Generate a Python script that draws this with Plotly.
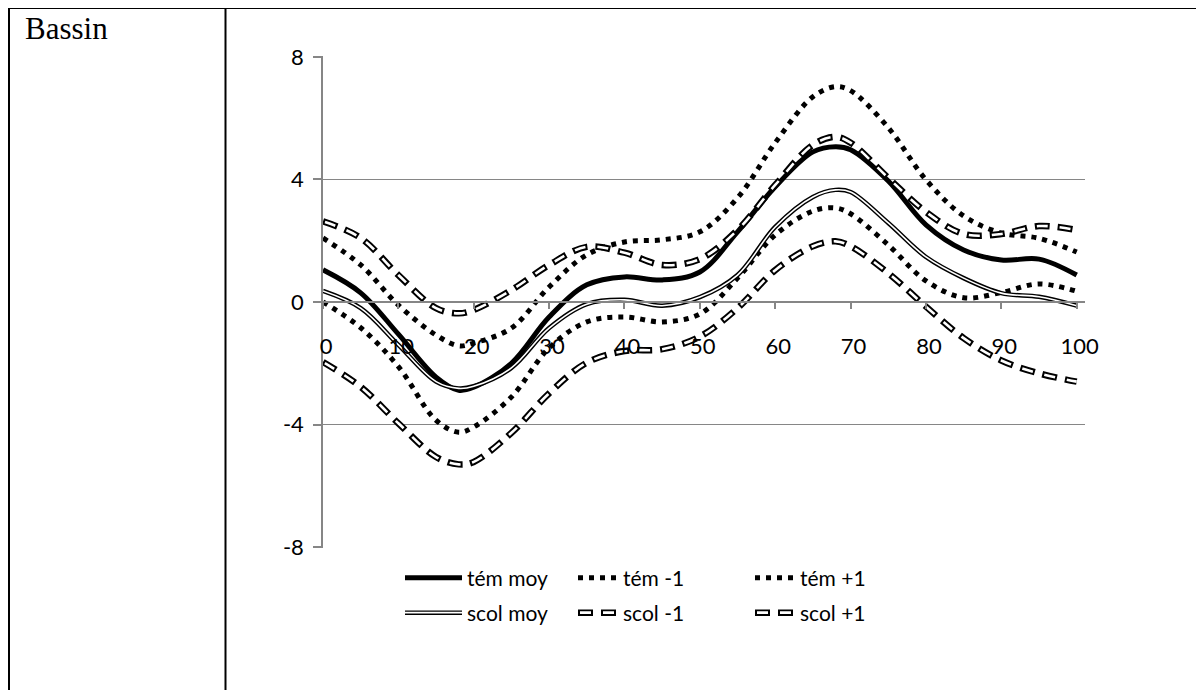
import plotly.graph_objects as go

# ---------------- data ----------------
x = [0, 5, 10, 15, 18, 20, 25, 30, 35, 40, 45, 50, 55, 60, 65, 68, 70, 75, 80, 85, 90, 95, 100]

tem_moy = [1.05, 0.30, -1.05, -2.45, -2.88, -2.78, -2.00, -0.49, 0.56, 0.82, 0.72, 0.98,
           2.29, 3.76, 4.90, 5.07, 4.97, 3.95, 2.52, 1.70, 1.37, 1.40, 0.88]
tem_m1 = [0.00, -0.84, -2.11, -3.86, -4.25, -4.08, -3.10, -1.50, -0.65, -0.49, -0.65, -0.39,
          0.78, 2.19, 2.97, 3.07, 2.88, 1.86, 0.69, 0.14, 0.31, 0.59, 0.35]
tem_p1 = [2.09, 1.21, -0.10, -1.08, -1.43, -1.34, -0.85, 0.49, 1.54, 1.96, 2.03, 2.29,
          3.40, 5.20, 6.70, 7.03, 6.90, 5.69, 3.99, 2.81, 2.25, 2.08, 1.63]
scol_moy = [0.36, -0.20, -1.40, -2.60, -2.82, -2.75, -2.15, -0.85, -0.07, 0.07, -0.12, 0.16,
            0.88, 2.45, 3.43, 3.66, 3.59, 2.58, 1.47, 0.78, 0.29, 0.17, -0.12]
scol_m1 = [-1.96, -2.77, -3.96, -5.06, -5.30, -5.22, -4.27, -2.98, -1.98, -1.60, -1.54, -1.13,
           -0.20, 1.04, 1.82, 1.98, 1.82, 0.94, -0.15, -1.18, -1.91, -2.33, -2.60]
scol_p1 = [2.63, 2.09, 0.88, -0.20, -0.37, -0.26, 0.39, 1.21, 1.80, 1.61, 1.21, 1.40,
           2.35, 3.82, 5.13, 5.39, 5.20, 4.05, 2.94, 2.22, 2.22, 2.48, 2.35]

x_ticks = [0, 10, 20, 30, 40, 50, 60, 70, 80, 90, 100]
y_ticks = [-8, -4, 0, 4, 8]
y_ticktext = ["-8", "-4", "0", "4", "8"]

# ---------------- layout geometry (page/screen pixels) ----------------
OFF = 8                      # default page body margin
W, H = 1204 - OFF, 690 - OFF
SL, SR, ST, SB = 323, 1085, 56, 548   # plot area on screen
PL, PR, PT, PB = SL - OFF, SR - OFF, ST - OFF, SB - OFF
YR = 8.03


def pxx(v):
    return (v - OFF - PL) / (PR - PL)


def pxy(v):
    return (PB - (v - OFF)) / (PB - PT)


FONT = "Lato"
FS = 21
TFS = 22
GRAY = "#868686"

fig = go.Figure()


def add(y, name, color, width, dash, legend, showlegend=True):
    fig.add_trace(go.Scatter(
        x=x, y=y, name=name, mode="lines",
        line=dict(color=color, width=width, dash=dash, shape="spline", smoothing=1.0),
        legend=legend, showlegend=showlegend, hoverinfo="skip"))


DOT = "5px,6px"
DASH_OUT = "15px,8px"
DASH_IN = "0px,2px,11px,10px"

add(tem_moy, "tém moy", "black", 5, "solid", "legend")
add(tem_m1, "tém -1", "black", 5, DOT, "legend2")
add(tem_p1, "tém +1", "black", 5, DOT, "legend3")
add(scol_moy, "scol moy", "black", 4.5, "solid", "legend4")
add(scol_moy, "scol moy", "white", 1.6, "solid", "legend7")
add(scol_m1, "scol -1", "black", 6.5, DASH_OUT, "legend5")
add(scol_m1, "scol -1", "white", 2.6, DASH_IN, "legend8")
add(scol_p1, "scol +1", "black", 6.5, DASH_OUT, "legend6")
add(scol_p1, "scol +1", "white", 2.6, DASH_IN, "legend9")

row1, row2 = 578, 613
col = [400, 573, 750]
legends = {}
spec = [("legend", col[0], row1, 57, "black"), ("legend2", col[1], row1, 40, "black"),
        ("legend3", col[2], row1, 40, "black"),
        ("legend4", col[0], row2, 57, "black"), ("legend5", col[1], row2, 40, "black"),
        ("legend6", col[2], row2, 40, "black"),
        ("legend7", col[0], row2, 57, "rgba(0,0,0,0)"), ("legend8", col[1], row2, 40, "rgba(0,0,0,0)"),
        ("legend9", col[2], row2, 40, "rgba(0,0,0,0)")]
for key, lx, ly, iw, tc in spec:
    legends[key] = dict(x=pxx(lx), y=pxy(ly), xanchor="left", yanchor="middle",
                        bgcolor="rgba(0,0,0,0)", borderwidth=0, itemwidth=iw,
                        font=dict(family=FONT, size=FS, color=tc))

shapes = []
for (x0, y0, x1, y1) in [(9, 7, 9, 700), (8, 8, 1201, 8), (225.5, 7, 225.5, 700), (1199.5, 7, 1199.5, 700)]:
    shapes.append(dict(type="line", xref="paper", yref="paper",
                       x0=pxx(x0), y0=pxy(y0), x1=pxx(x1), y1=pxy(y1),
                       line=dict(color="black", width=2)))

fig.update_layout(
    width=W, height=H,
    margin=dict(l=PL, r=W - PR, t=PT, b=H - PB, autoexpand=False),
    paper_bgcolor="white", plot_bgcolor="white",
    font=dict(family=FONT, size=FS, color="black"),
    shapes=shapes,
    annotations=[dict(text="Bassin", xref="paper", yref="paper", x=pxx(23), y=pxy(28),
                      xanchor="left", yanchor="middle", showarrow=False,
                      font=dict(family="Liberation Serif", size=31, color="black"))],
    xaxis=dict(range=[0, 101.1], anchor="free", position=0.5, showline=True,
               linecolor=GRAY, linewidth=1.5, ticks="outside", ticklen=6, tickwidth=1.5,
               tickcolor=GRAY, tickvals=x_ticks, showgrid=False, zeroline=False,
               ticklabelstandoff=19, ticklabelshift=3,
               tickfont=dict(family=FONT, size=TFS, color="black")),
    yaxis=dict(range=[-YR, YR], showline=True, linecolor=GRAY, linewidth=1.5,
               ticks="outside", ticklen=8, tickwidth=1.5, tickcolor=GRAY,
               tickvals=y_ticks, ticktext=y_ticktext, showgrid=True, gridcolor=GRAY,
               gridwidth=1.3, zeroline=False, ticklabelstandoff=5,
               tickfont=dict(family=FONT, size=TFS, color="black")),
    **legends,
)

fig.write_html("out.html")
